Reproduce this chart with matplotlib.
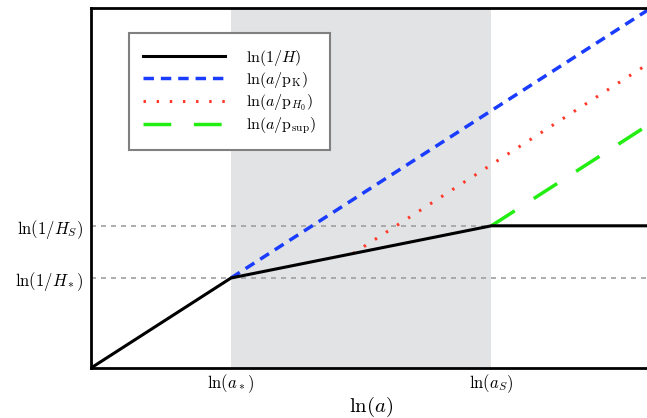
import matplotlib
matplotlib.use("Agg")
import matplotlib.pyplot as plt

plt.rcParams["mathtext.fontset"] = "cm"
plt.rcParams["font.family"] = "serif"
plt.rcParams["font.serif"] = ["DejaVu Serif"]

# break points, in (ln a, ln 1/H) units
x_star, y_star = 1.0, 1.0
x_S, y_S = 2.86, 1.58
x_max, y_max = 4.0, 4.0

# piecewise curves
H_x = [0.0, x_star, x_S, x_max]
H_y = [0.0, y_star, y_S, y_S]
pK_x = [x_star, x_max]
pK_y = [y_star, 4.0]
pH0_x = [1.87, x_max]
pH0_y = [1.27, 3.40]
psup_x = [x_S, x_max]
psup_y = [y_S, 2.72]

xtick_labels = [r"$\ln(a_*)$", r"$\ln(a_S)$"]
ytick_labels = [r"$\ln(1/H_*)$", r"$\ln(1/H_S)$"]

fig = plt.figure(figsize=(6.47, 4.18), dpi=100)
ax = fig.add_axes([91 / 647, 50 / 418, 560 / 647, 360 / 418])

ax.axvspan(x_star, x_S, color="#e2e3e5", lw=0, zorder=0)
for yv in (y_star, y_S):
    ax.axhline(yv, color="#a0a0a0", ls=(0, (3, 3)), lw=1.2, zorder=1)

ax.plot(H_x, H_y, color="black", lw=2.2, label=r"$\ln(1/H)$", zorder=3)
ax.plot(pK_x, pK_y, color="#1a3cff", lw=2.5, ls=(0, (3, 2)),
        label=r"$\ln(a/\mathrm{p}_{\mathrm{K}})$", zorder=2)
ax.plot(pH0_x, pH0_y, color="#ff3a2a", lw=2.2, ls=(0, (0.8, 3.5)),
        label=r"$\ln(a/\mathrm{p}_{H_0})$", zorder=2)
ax.plot(psup_x, psup_y, color="#22ee11", lw=2.5, ls=(0, (8, 6.5)),
        label=r"$\ln(a/\mathrm{p}_{\mathrm{sup}})$", zorder=2)

ax.set_xlim(0, x_max)
ax.set_ylim(0, y_max)
ax.set_xticks([x_star, x_S])
ax.set_xticklabels(xtick_labels)
ax.set_yticks([y_star, y_S])
ax.set_yticklabels(ytick_labels)
ax.tick_params(length=0, labelsize=12)
ax.tick_params(axis="x", pad=3)
ax.tick_params(axis="y", pad=5.5)
ax.set_xlabel(r"$\ln(a)$", fontsize=15, labelpad=0)

for s in ax.spines.values():
    s.set_linewidth(2)

leg = ax.legend(loc="upper left", bbox_to_anchor=(0.068, 0.93), fontsize=11.5,
                handlelength=5.1, fancybox=False, framealpha=1,
                edgecolor="#808080", borderpad=0.9, labelspacing=0.15,
                handletextpad=1.3, borderaxespad=0)
leg.get_frame().set_linewidth(1.5)

fig.savefig("out.png", dpi=100)
